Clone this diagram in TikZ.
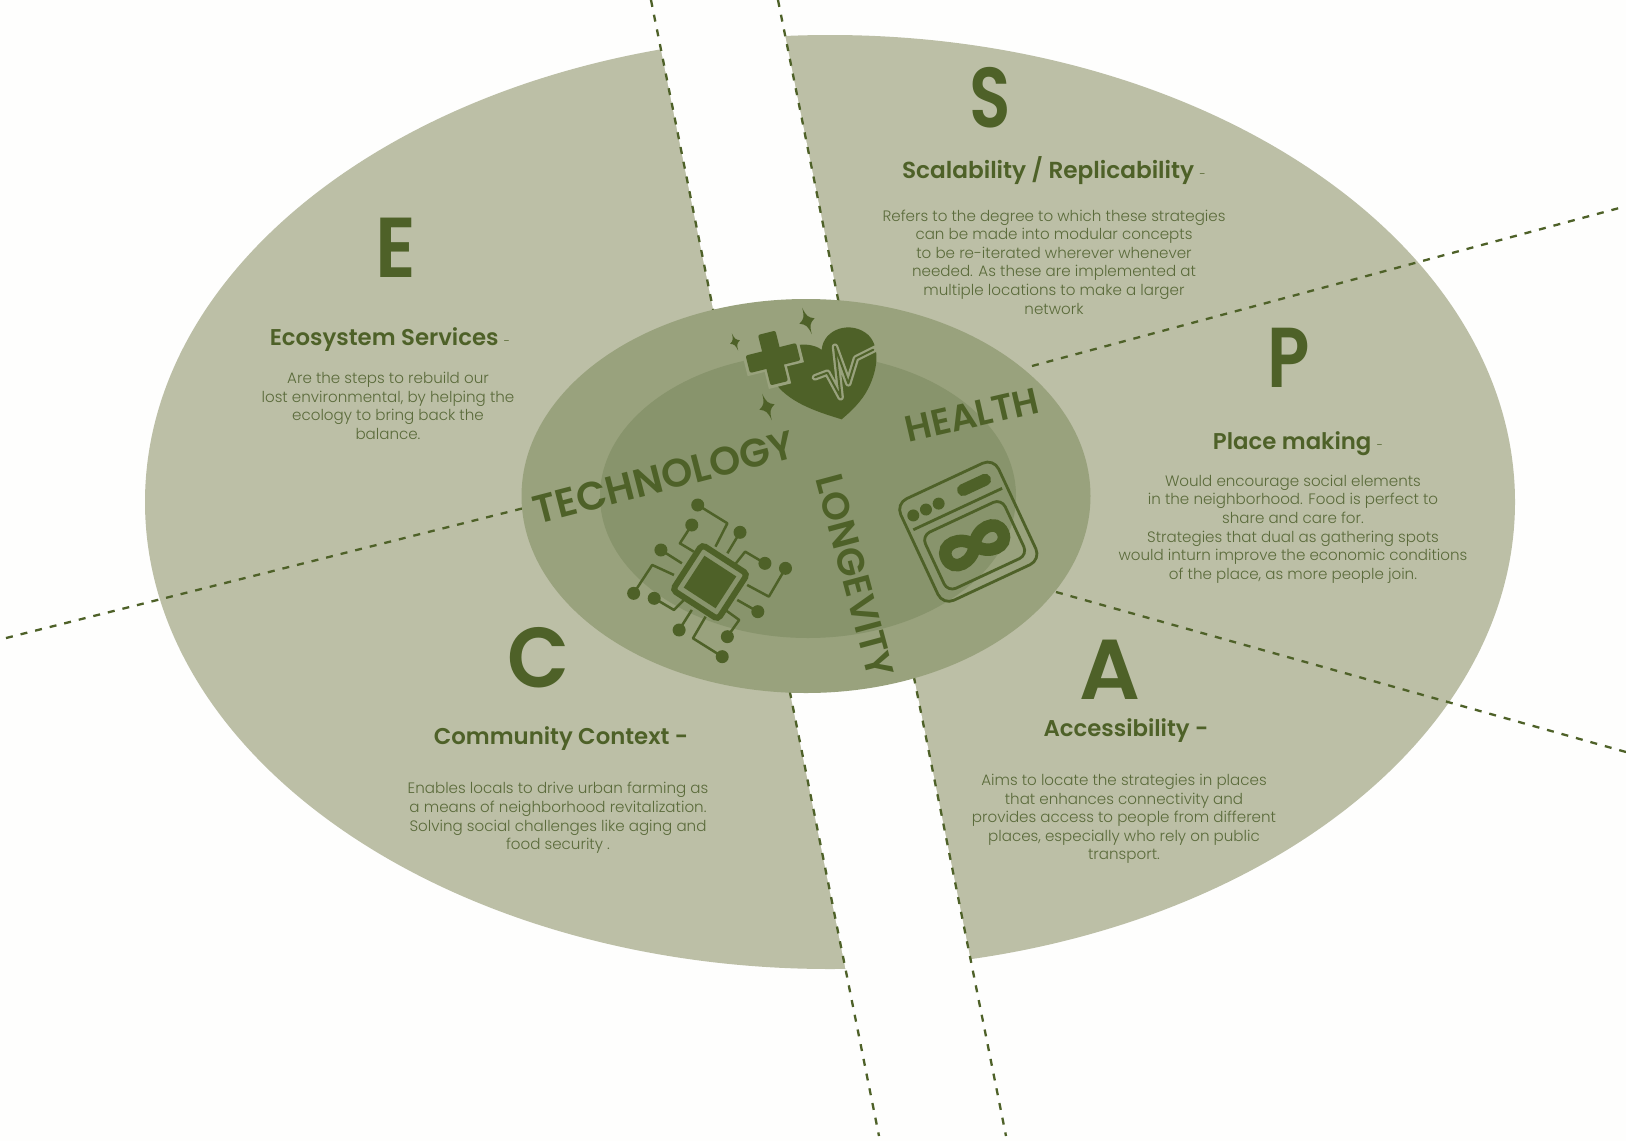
\documentclass[tikz,border=0pt]{standalone}
\usepackage{fontspec}
\setmainfont{Poppins}
\newfontfamily\lightf{Poppins Light}
\newfontfamily\semif{Poppins SemiBold}
\definecolor{bigc}{HTML}{BCBFA6}
\definecolor{midc}{HTML}{99A27D}
\definecolor{innerc}{HTML}{88946C}
\definecolor{darkc}{HTML}{4E6128}
\definecolor{bodyc}{HTML}{5A6A3A}
\definecolor{paperc}{HTML}{FEFEFD}
\tikzset{
  dashline/.style={draw=darkc,line width=2.3pt,dash pattern=on 7pt off 8pt},
  letter/.style={text=darkc,font=\fontsize{85}{85}\selectfont\semif,inner sep=0pt,transform shape},
  head/.style={text=darkc,font=\fontsize{22.8}{26}\selectfont\semif,inner sep=0pt},
  bodytext/.style={text=bodyc,align=center,inner sep=0pt,font=\fontsize{15.1}{18.6}\selectfont\lightf},
  core/.style={text=darkc,font=\fontsize{39.7}{43}\selectfont\semif,inner sep=0pt},
  trace/.style={draw=darkc,line width=2.5pt,line join=round},
  iconline/.style={draw=darkc,line width=2.8pt}
}
\newcommand{\Sparkle}[3]{\fill[darkc,shift={(#1,#2)},scale=#3,rotate=20] (0,-14) .. controls (1,-5) and (2,-3) .. (8,0) .. controls (2,3) and (1,5) .. (0,14) .. controls (-1,5) and (-2,3) .. (-8,0) .. controls (-2,-3) and (-1,-5) .. (0,-14) -- cycle;}
\newcommand{\Hy}{\fontsize{12}{12}\selectfont\lightf -}
\begin{document}
\begin{tikzpicture}[x=1pt,y=-1pt]
\useasboundingbox (0,0) rectangle (1626,1141);
\fill[paperc] (0,0) rectangle (1626,1141);
\fill[bigc] (830,502) ellipse [x radius=685,y radius=467];
% white band
\coordinate (b1t) at (651,0); \coordinate (b1b) at (879,1136);
\coordinate (b2t) at (778,0); \coordinate (b2b) at (1006,1136);
\fill[paperc] (b1t) -- (b2t) -- (b2b) -- (b1b) -- cycle;
% dashed dividers
\coordinate (l1) at (6,638); \coordinate (l2) at (524,508);
\coordinate (r1) at (1032,366); \coordinate (r2) at (1623,207);
\coordinate (s1) at (1056,592); \coordinate (s2) at (1626,752);
\draw[dashline] (b1t) -- (b1b);
\draw[dashline] (b2t) -- (b2b);
\draw[dashline] (l1) -- (l2);
\draw[dashline] (r1) -- (r2);
\draw[dashline] (s1) -- (s2);
% centre
\fill[midc] (806,496) ellipse [x radius=284.5,y radius=197];
\fill[innerc] (808,496) ellipse [x radius=208,y radius=142];
% letters
\node[letter,xscale=0.8] (ls) at (990,98) {S};
\node[letter,xscale=0.9] (le) at (396,248) {E};
\node[letter,xscale=0.82] (lp) at (1289,358) {P};
\node[letter,xscale=0.95] (lc) at (539,658) {C};
\node[letter] (la) at (1110,670) {A};
% headings
\node[head,font=\fontsize{23.2}{26}\selectfont\semif] (hs) at (1054,171) {Scalability / Replicability \Hy};
\node[head] (he) at (390,340) {Ecosystem Services \Hy};
\node[head] (hp) at (1298,444) {Place making \Hy};
\node[head] (hc) at (561,739) {Community Context -};
\node[head] (ha) at (1126,731) {Accessibility -};
% bodies
\node[bodytext] (ts) at (1054,262) {Refers to the degree to which these strategies\\can be made into modular concepts\\to be re-iterated wherever whenever\\needed. As these are implemented at\\multiple locations to make a larger\\network};
\node[bodytext] (te) at (388,406) {Are the steps to rebuild our\\lost environmental, by helping the\\ecology to bring back the\\balance.};
\node[bodytext] (tp) at (1293,529) {Would encourage social elements\\in the neighborhood. Food is perfect to\\share and care for.\\Strategies that dual as gathering spots\\would inturn improve the economic conditions\\of the place, as more people join.};
\node[bodytext] (tc) at (558,818) {Enables locals to drive urban farming as\\a means of neighborhood revitalization.\\Solving social challenges like aging and\\food security .};
\node[bodytext] (ta) at (1124,819) {Aims to locate the strategies in places\\that enhances connectivity and\\provides access to people from different\\places, especially who rely on public\\transport.};
% core labels
\node[core,rotate=14.5] (tech) at (664,477) {TECHNOLOGY};
\node[core,rotate=13,font=\fontsize{36.6}{38}\selectfont\semif] (heal) at (972,415) {HEALTH};
\node[core,rotate=-75,font=\fontsize{38}{38}\selectfont\semif] (long) at (855,576) {LONGEVITY};
% health icon, coordinates in tripled pixels
\begin{scope}[shift={(720,300)},scale=0.3333]
  \fill[darkc] (305,150) .. controls (310,85) and (395,60) .. (445,105) .. controls (480,140) and (475,205) .. (445,265) .. controls (425,305) and (392,335) .. (365,358) .. controls (300,338) and (215,312) .. (170,255) .. controls (150,220) and (190,140) .. (235,135) .. controls (265,130) and (295,140) .. (305,150) -- cycle;
\end{scope}
\begin{scope}[shift={(773,358)},rotate=14]
  \fill[midc] (-11.5,-29) rectangle (11.5,29); \fill[midc] (-29,-11.5) rectangle (29,11.5);
  \fill[darkc,rounded corners=2pt] (-9,-26) rectangle (9,26);
  \fill[darkc,rounded corners=2pt] (-26,-9) rectangle (26,9);
\end{scope}
\begin{scope}[shift={(720,300)},scale=0.3333]
  \draw[midc,line width=6.5pt,line join=round,line cap=round] (285,232) -- (322,218) -- (362,292) -- (345,140) -- (385,250) -- (408,175) -- (478,140);
  \draw[darkc,line width=2pt,line join=round,line cap=round] (285,232) -- (322,218) -- (362,292) -- (345,140) -- (385,250) -- (408,175) -- (460,149);
\end{scope}
\Sparkle{807}{321}{1}
\Sparkle{735}{342}{0.65}
\Sparkle{767}{407}{1}
% chip icon
\foreach \a/\b in {500/675,485/735,607/757,407/810,670/850,722/865,652/995,575/1070,562/1130,453/1050,390/955,338/940}
  \fill[darkc] ({500+\a/2.529},{280+\b/3}) circle (6.5);
\begin{scope}[shift={(500,280)},xscale=0.3954,yscale=0.3333]
  \draw[trace] (500,675) -- (575,730) -- (545,800);
  \draw[trace] (485,735) -- (455,790) -- (490,815);
  \draw[trace] (607,757) -- (575,820);
  \draw[trace] (407,810) -- (460,850);
  \draw[trace] (670,850) -- (620,815) -- (590,860);
  \draw[trace] (722,865) -- (680,950) -- (625,915);
  \draw[trace] (652,995) -- (600,960);
  \draw[trace] (575,1070) -- (605,1020) -- (570,990);
  \draw[trace] (562,1130) -- (488,1075) -- (520,1010);
  \draw[trace] (453,1050) -- (485,990);
  \draw[trace] (390,955) -- (440,990) -- (465,960);
  \draw[trace] (338,940) -- (385,855) -- (440,885);
\end{scope}
\begin{scope}[shift={(710,582)},rotate=-33]
  \fill[innerc,draw=darkc,line width=6pt,rounded corners=4pt] (-27,-27) rectangle (27,27);
  \fill[darkc] (-19,-19) rectangle (19,19);
\end{scope}
% window icon
\begin{scope}[shift={(968.3,531.7)},rotate=25]
  \draw[iconline,rounded corners=12pt] (-54,-56) rectangle (54,56);
  \draw[iconline] (-49,-25) -- (49,-25);
  \foreach \c in {-43,-29,-15} \fill[darkc] (\c,-38) circle (6);
  \fill[darkc,rounded corners=5.5pt] (7,-46) rectangle (43,-34);
  \draw[iconline,rounded corners=9pt] (-44,-16) rectangle (44,46);
  \draw[darkc,line width=12.5pt] (0,15) .. controls (8,0) and (31,-1) .. (31,15) .. controls (31,31) and (8,30) .. (0,15) .. controls (-8,0) and (-31,-1) .. (-31,15) .. controls (-31,31) and (-8,30) .. (0,15) -- cycle;
\end{scope}
\end{tikzpicture}
\end{document}
